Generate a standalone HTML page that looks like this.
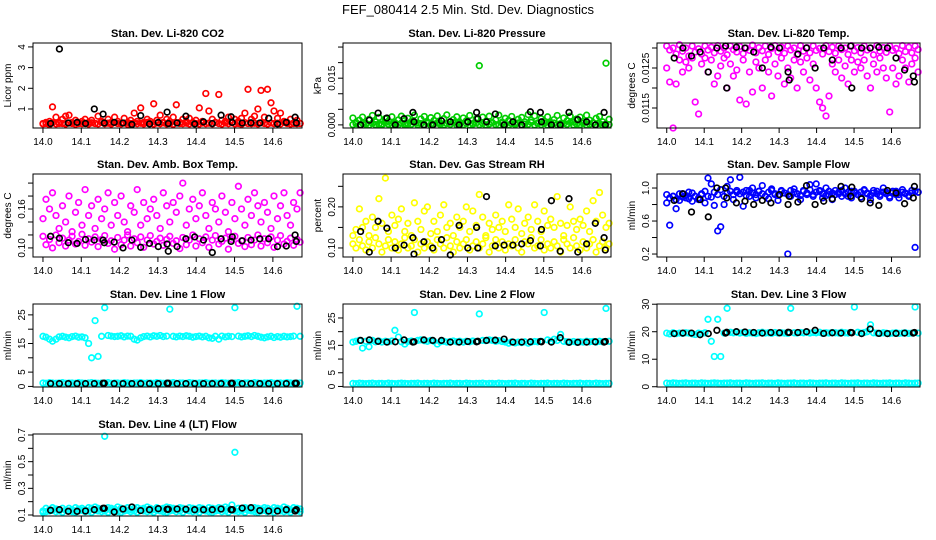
<!DOCTYPE html>
<html><head><meta charset="utf-8"><style>
html,body{margin:0;padding:0;background:#fff}
svg{display:block;font-family:"Liberation Sans",sans-serif}
</style></head><body>
<svg id="chart" width="936" height="540" xmlns="http://www.w3.org/2000/svg">
<text x="468" y="14" text-anchor="middle" font-size="13">FEF_080414  2.5 Min. Std. Dev. Diagnostics</text>
</svg>
<script>
const T=[14.000,14.008,14.017,14.025,14.034,14.042,14.051,14.059,14.068,14.076,14.085,14.093,14.102,14.110,14.119,14.127,14.136,14.144,14.153,14.161,14.170,14.178,14.187,14.195,14.204,14.212,14.221,14.229,14.238,14.246,14.255,14.263,14.272,14.280,14.289,14.297,14.306,14.314,14.323,14.331,14.340,14.348,14.357,14.365,14.374,14.382,14.391,14.399,14.408,14.416,14.425,14.433,14.442,14.450,14.459,14.467,14.476,14.484,14.493,14.501,14.510,14.518,14.527,14.535,14.544,14.552,14.561,14.569,14.578,14.586,14.595,14.603,14.612,14.620,14.629,14.637,14.646,14.654,14.663,14.671];
const TB=[14.020,14.043,14.066,14.089,14.111,14.134,14.157,14.160,14.186,14.209,14.232,14.255,14.278,14.301,14.324,14.327,14.350,14.373,14.396,14.419,14.442,14.465,14.491,14.494,14.520,14.543,14.566,14.589,14.612,14.635,14.658,14.661];
const xTicks=[14.0,14.1,14.2,14.3,14.4,14.5,14.6];

const co2A=[0.3,0.35,0.4,1.1,0.6,0.3,0.5,0.65,0.7,0.35,0.45,0.3,0.4,0.5,0.35,0.45,0.3,0.65,0.4,0.3,0.5,0.35,0.6,0.4,0.3,0.55,0.35,0.45,0.8,0.4,1.05,0.35,0.5,0.4,1.25,0.45,0.7,0.35,0.5,0.4,0.6,1.2,0.35,0.5,0.4,0.55,0.35,0.45,1.05,0.4,1.75,0.9,0.5,0.35,1.7,0.45,0.4,0.6,0.35,0.5,0.4,0.55,0.8,1.95,0.5,0.65,1.0,1.9,0.6,1.95,1.3,0.9,0.55,0.8,0.4,0.35,0.5,0.3,0.45,0.3];
const co2B=[0.28,0.3,0.25,0.33,0.28,0.35,0.3,0.27,0.32,0.3,0.26,0.34,0.29,0.31,0.27,0.33,0.3,0.28,0.35,0.29,0.31,0.27,0.34,0.3,0.28,0.32,0.26,0.3,0.33,0.29,0.31,0.28,0.35,0.3,0.27,0.32,0.29,0.33,0.28,0.3,0.26,0.34,0.3,0.29,0.31,0.28,0.33,0.3,0.27,0.32,0.29,0.31,0.28,0.35,0.3,0.27,0.32,0.29,0.33,0.28,0.3,0.26,0.34,0.3,0.29,0.31,0.28,0.33,0.3,0.27,0.32,0.29,0.31,0.28,0.35,0.3,0.27,0.32,0.29,0.3];
const co2K=[0.3,3.9,0.32,0.35,0.3,1.0,0.75,0.32,0.35,0.32,0.25,0.68,0.28,0.35,0.85,0.3,0.32,0.65,0.28,0.38,0.3,0.7,0.62,0.35,0.32,0.33,0.32,0.55,0.28,0.35,0.6,0.32];

const presA=[0.0022,0.0008,0.0015,0.0025,0.0005,0.0018,0.0030,0.0010,0.0024,0.0003,0.0020,0.0012,0.0026,0.0007,0.0016,0.0028,0.0004,0.0021,0.0011,0.0031,0.0006,0.0019,0.0027,0.0009,0.0023,0.0014,0.0029,0.0005,0.0020,0.0032,0.0010,0.0017,0.0026,0.0008,0.0022,0.0013,0.0030,0.0004,0.0019,0.0190,0.0025,0.0011,0.0028,0.0007,0.0016,0.0031,0.0009,0.0021,0.0014,0.0027,0.0005,0.0018,0.0024,0.0010,0.0033,0.0015,0.0029,0.0006,0.0020,0.0012,0.0026,0.0008,0.0017,0.0030,0.0004,0.0022,0.0013,0.0028,0.0009,0.0019,0.0025,0.0011,0.0031,0.0015,0.0007,0.0021,0.0027,0.0010,0.0198,0.0018];
const presB=[0.0001,0.0004,0.0000,0.0006,0.0002,0.0000,0.0005,0.0001,0.0003,0.0000,0.0007,0.0002,0.0000,0.0004,0.0001,0.0006,0.0000,0.0003,0.0002,0.0008,0.0000,0.0004,0.0001,0.0005,0.0000,0.0003,0.0006,0.0001,0.0000,0.0004,0.0002,0.0007,0.0000,0.0003,0.0001,0.0005,0.0000,0.0002,0.0006,0.0001,0.0004,0.0000,0.0003,0.0007,0.0001,0.0000,0.0005,0.0002,0.0000,0.0004,0.0001,0.0006,0.0000,0.0003,0.0002,0.0008,0.0000,0.0004,0.0001,0.0005,0.0000,0.0003,0.0006,0.0001,0.0000,0.0004,0.0002,0.0007,0.0000,0.0003,0.0001,0.0005,0.0000,0.0002,0.0006,0.0001,0.0004,0.0000,0.0003,0.0001];
const presK=[0.0000,0.0015,0.0038,0.0022,0.0000,0.0020,0.0040,0.0010,0.0000,0.0000,0.0013,0.0010,0.0000,0.0010,0.0040,0.0020,0.0010,0.0035,0.0000,0.0010,0.0000,0.0042,0.0040,0.0010,0.0000,0.0000,0.0040,0.0017,0.0010,0.0000,0.0040,0.0000];

const tempA=[0.01305,0.01295,0.01300,0.01285,0.01308,0.01292,0.01300,0.01280,0.01305,0.01290,0.01298,0.01285,0.01305,0.01295,0.01302,0.01288,0.01306,0.01292,0.01300,0.01283,0.01305,0.01296,0.01290,0.01304,0.01286,0.01300,0.01294,0.01307,0.01288,0.01301,0.01293,0.01305,0.01284,0.01299,0.01306,0.01290,0.01302,0.01287,0.01305,0.01295,0.01300,0.01283,0.01306,0.01292,0.01301,0.01288,0.01305,0.01294,0.01299,0.01285,0.01306,0.01291,0.01302,0.01287,0.01305,0.01296,0.01300,0.01284,0.01306,0.01293,0.01301,0.01288,0.01305,0.01295,0.01300,0.01283,0.01306,0.01292,0.01301,0.01289,0.01305,0.01294,0.01299,0.01286,0.01306,0.01291,0.01302,0.01288,0.01305,0.01296];
const tempB=[0.01250,0.01215,0.01100,0.01210,0.01270,0.01240,0.01265,0.01250,0.01275,0.01165,0.01135,0.01260,0.01275,0.01240,0.01270,0.01210,0.01230,0.01255,0.01275,0.01200,0.01260,0.01230,0.01245,0.01170,0.01270,0.01160,0.01240,0.01190,0.01265,0.01250,0.01200,0.01270,0.01240,0.01180,0.01260,0.01230,0.01275,0.01210,0.01250,0.01225,0.01270,0.01200,0.01265,0.01240,0.01275,0.01220,0.01260,0.01200,0.01165,0.01150,0.01130,0.01180,0.01260,0.01240,0.01270,0.01225,0.01255,0.01210,0.01270,0.01240,0.01265,0.01250,0.01270,0.01230,0.01200,0.01260,0.01240,0.01275,0.01250,0.01225,0.01140,0.01250,0.01210,0.01230,0.01270,0.01250,0.01215,0.01260,0.01275,0.01240];
const tempK=[0.01275,0.01300,0.01280,0.01290,0.01240,0.01300,0.01305,0.01200,0.01302,0.01300,0.01290,0.01250,0.01302,0.01300,0.01240,0.01220,0.01285,0.01300,0.01250,0.01300,0.01270,0.01300,0.01305,0.01200,0.01300,0.01300,0.01302,0.01300,0.01275,0.01245,0.01230,0.01215];

const ambA=[0.145,0.175,0.160,0.185,0.150,0.130,0.165,0.140,0.180,0.125,0.155,0.170,0.135,0.190,0.150,0.165,0.130,0.175,0.145,0.160,0.185,0.135,0.170,0.150,0.180,0.140,0.125,0.165,0.155,0.190,0.135,0.170,0.145,0.160,0.175,0.150,0.130,0.185,0.165,0.140,0.170,0.155,0.180,0.200,0.135,0.160,0.175,0.145,0.165,0.185,0.150,0.130,0.170,0.160,0.140,0.180,0.155,0.125,0.170,0.145,0.195,0.160,0.135,0.175,0.150,0.185,0.165,0.140,0.170,0.155,0.130,0.180,0.145,0.165,0.185,0.150,0.135,0.170,0.160,0.185];
const ambB=[0.118,0.105,0.113,0.100,0.120,0.108,0.115,0.103,0.112,0.118,0.106,0.110,0.121,0.104,0.114,0.109,0.117,0.102,0.113,0.119,0.107,0.111,0.098,0.116,0.105,0.112,0.120,0.103,0.114,0.108,0.117,0.101,0.112,0.119,0.106,0.110,0.115,0.104,0.113,0.118,0.107,0.111,0.099,0.116,0.105,0.112,0.120,0.103,0.114,0.108,0.117,0.101,0.112,0.119,0.106,0.110,0.115,0.098,0.113,0.118,0.107,0.111,0.102,0.116,0.105,0.112,0.120,0.103,0.114,0.108,0.117,0.101,0.112,0.119,0.106,0.110,0.115,0.104,0.113,0.109];
const ambK=[0.118,0.115,0.108,0.107,0.113,0.112,0.112,0.108,0.109,0.100,0.112,0.101,0.107,0.102,0.106,0.095,0.102,0.114,0.117,0.112,0.093,0.114,0.110,0.117,0.111,0.112,0.114,0.114,0.102,0.103,0.120,0.110];

const rhA=[0.13,0.145,0.195,0.15,0.165,0.13,0.175,0.15,0.22,0.16,0.27,0.14,0.18,0.155,0.17,0.195,0.14,0.16,0.13,0.21,0.165,0.145,0.19,0.2,0.135,0.165,0.14,0.18,0.205,0.15,0.16,0.13,0.175,0.15,0.165,0.2,0.14,0.19,0.155,0.23,0.175,0.13,0.16,0.145,0.18,0.15,0.165,0.14,0.205,0.17,0.15,0.195,0.135,0.16,0.175,0.145,0.205,0.165,0.14,0.19,0.155,0.17,0.15,0.225,0.16,0.13,0.155,0.2,0.165,0.145,0.17,0.155,0.19,0.14,0.215,0.165,0.235,0.18,0.15,0.16];
const rhB=[0.11,0.1,0.12,0.105,0.095,0.115,0.1,0.125,0.11,0.09,0.105,0.12,0.1,0.115,0.095,0.11,0.125,0.1,0.105,0.12,0.09,0.11,0.1,0.115,0.105,0.095,0.12,0.11,0.1,0.125,0.105,0.09,0.115,0.1,0.11,0.12,0.095,0.105,0.115,0.1,0.11,0.125,0.09,0.105,0.12,0.1,0.115,0.095,0.11,0.105,0.12,0.1,0.09,0.115,0.11,0.125,0.1,0.105,0.12,0.095,0.11,0.1,0.115,0.105,0.09,0.12,0.11,0.1,0.125,0.105,0.095,0.115,0.1,0.11,0.12,0.09,0.105,0.115,0.1,0.11];
const rhK=[0.14,0.09,0.165,0.148,0.1,0.107,0.125,0.085,0.115,0.1,0.12,0.083,0.155,0.1,0.15,0.1,0.225,0.105,0.107,0.107,0.11,0.118,0.105,0.145,0.215,0.092,0.22,0.09,0.11,0.16,0.125,0.095];

const flowA=[0.92,0.88,0.9,0.86,0.93,0.89,0.91,0.87,0.94,0.9,0.88,0.93,0.96,0.9,0.89,0.95,0.92,0.98,0.9,0.94,0.96,0.92,0.97,0.93,0.95,0.91,0.97,0.94,0.92,0.96,0.93,0.9,0.95,0.97,0.93,0.91,0.96,0.94,0.92,0.97,0.95,0.93,0.91,0.96,0.94,0.98,0.92,0.95,0.97,0.93,0.91,0.96,0.94,0.92,0.95,0.97,0.93,0.9,0.96,0.94,0.92,0.95,0.97,0.93,0.91,0.94,0.96,0.92,0.95,0.93,0.9,0.94,0.96,0.92,0.95,0.93,0.91,0.94,0.96,0.95];
const flowB=[0.82,0.55,0.9,0.75,0.85,0.93,0.88,0.95,0.84,0.9,0.86,0.92,0.82,1.12,1.05,0.79,0.48,0.53,0.8,1.02,1.1,0.86,0.95,1.13,0.78,0.97,0.9,1.0,0.88,0.96,1.03,0.9,0.87,0.99,0.92,0.85,0.97,0.94,0.2,0.9,0.99,0.93,0.86,0.97,0.92,1.04,0.9,1.05,0.96,0.88,1.0,0.92,0.86,0.97,0.93,0.9,1.0,0.95,0.88,0.96,0.92,0.89,0.98,0.94,0.86,0.97,0.93,0.9,1.0,0.95,0.88,0.96,0.92,0.88,0.98,0.94,0.9,0.97,0.28,0.95];
const flowK=[0.85,0.93,0.71,0.86,0.65,1.0,1.0,0.88,0.82,0.84,0.8,0.85,0.82,0.92,0.8,0.9,0.83,1.03,0.8,0.84,0.87,1.02,0.9,1.01,0.87,0.82,0.79,0.97,0.94,0.81,0.88,1.02];

const l1A=[17.5,17.2,16.5,15.8,16.5,17.3,17.5,17.2,17.0,17.4,17.6,17.2,17.3,17.0,15.0,10.0,23.0,10.5,17.5,27.5,17.8,17.6,17.4,17.5,17.7,17.3,17.6,17.5,16.5,16.2,17.0,17.4,17.6,17.3,17.7,17.5,17.8,17.4,17.6,27.0,17.5,17.3,17.6,17.4,17.7,17.5,17.2,17.4,17.6,17.3,17.5,17.0,16.8,17.5,16.5,17.6,17.3,17.5,17.4,27.5,17.6,17.3,17.5,17.7,17.4,17.8,17.5,17.2,17.0,17.3,17.5,17.1,17.4,17.2,17.5,17.3,17.4,17.6,28.0,17.5];
const l1B=[1.2,1.1,1.3,1.2,1.1,1.2,1.3,1.1,1.2,1.2,1.1,1.3,1.2,1.1,1.2,1.3,1.2,1.1,1.2,1.2,1.3,1.1,1.2,1.2,1.1,1.3,1.2,1.1,1.2,1.2,1.3,1.1,1.2,1.2,1.1,1.3,1.2,1.1,1.2,1.2,1.3,1.1,1.2,1.2,1.1,1.3,1.2,1.1,1.2,1.2,1.3,1.1,1.2,1.2,1.1,1.3,1.2,1.1,1.2,1.2,1.3,1.1,1.2,1.2,1.1,1.3,1.2,1.1,1.2,1.2,1.3,1.1,1.2,1.2,1.1,1.3,1.2,1.1,1.2,1.2];
const l1K=[1,1,1,1,1,1,1.1,1.1,1,1,1,1,1,1,1.1,1.1,1,1,1,1,1,1,1.1,1.1,1,1,1,1,1,1,1.1,1.1];

const l2A=[16.2,16.5,16.8,14.0,16.5,14.5,16.8,16.3,16.6,16.2,16.5,16.3,16.6,20.5,18.0,16.3,15.5,16.4,16.6,27.0,16.8,17.0,16.7,16.5,16.8,16.5,15.5,16.3,16.5,16.2,16.4,16.6,16.3,16.5,16.2,16.5,16.3,16.6,16.4,26.5,16.8,16.7,17.0,16.8,16.5,16.7,16.4,16.2,15.8,16.3,15.9,16.2,16.0,16.3,15.8,16.2,16.4,16.3,16.5,27.0,17.0,16.5,17.2,16.8,19.0,16.5,16.3,16.2,16.4,16.1,16.3,16.2,16.5,16.3,16.4,16.2,16.5,16.3,28.5,16.5];
const l2B=[1.1,1.0,1.2,1.1,1.0,1.1,1.2,1.0,1.1,1.1,1.0,1.2,1.1,1.0,1.1,1.2,1.1,1.0,1.1,1.1,1.2,1.0,1.1,1.1,1.0,1.2,1.1,1.0,1.1,1.1,1.2,1.0,1.1,1.1,1.0,1.2,1.1,1.0,1.1,1.1,1.2,1.0,1.1,1.1,1.0,1.2,1.1,1.0,1.1,1.1,1.2,1.0,1.1,1.1,1.0,1.2,1.1,1.0,1.1,1.1,1.2,1.0,1.1,1.1,1.0,1.2,1.1,1.0,1.1,1.1,1.2,1.0,1.1,1.1,1.0,1.2,1.1,1.0,1.1,1.1];
const l2K=[16.8,17,16.5,16.2,16.3,17,16.2,16.3,17,16.8,16.8,16.2,16.2,16.4,16.3,16.5,16.8,16.9,17.3,16.2,16.2,16.3,16.4,16.3,16.2,17.8,16.1,16.1,16.2,16.3,16.2,16.4];

const l3A=[19.5,19.2,19.6,19.3,19.5,19.4,19.6,19.5,19.2,19.0,19.5,19.3,19.6,24.5,16.5,11.0,24.5,11.0,19.5,28.5,19.8,19.6,19.8,19.5,19.7,19.4,19.6,19.5,19.3,19.6,19.8,19.5,19.6,19.4,19.7,19.5,19.6,19.5,19.4,28.5,19.6,19.5,19.7,19.6,19.8,19.5,19.7,19.6,19.8,19.4,19.6,19.5,19.7,19.6,19.5,19.8,19.6,19.5,19.7,29.0,19.8,19.5,19.7,20.0,22.5,19.6,19.5,19.4,19.6,19.5,19.3,19.5,19.6,19.4,19.5,19.6,19.4,19.5,29.0,19.5];
const l3B=[1.3,1.2,1.4,1.3,1.2,1.3,1.4,1.2,1.3,1.3,1.2,1.4,1.3,1.2,1.3,1.4,1.3,1.2,1.3,1.3,1.4,1.2,1.3,1.3,1.2,1.4,1.3,1.2,1.3,1.3,1.4,1.2,1.3,1.3,1.2,1.4,1.3,1.2,1.3,1.3,1.4,1.2,1.3,1.3,1.2,1.4,1.3,1.2,1.3,1.3,1.4,1.2,1.3,1.3,1.2,1.4,1.3,1.2,1.3,1.3,1.4,1.2,1.3,1.3,1.2,1.4,1.3,1.2,1.3,1.3,1.4,1.2,1.3,1.3,1.2,1.4,1.3,1.2,1.3,1.3];
const l3K=[19.3,19.5,19.5,18.9,19.3,20.5,19.5,19.8,20,19.9,19.7,19.5,19.7,19.6,19.8,19.7,19.7,20,20.5,19.4,19.6,19.5,19.7,19.6,19.3,21,19.4,19.3,19.4,19.5,19.5,19.7];

const l4A=[0.13,0.15,0.14,0.155,0.145,0.14,0.15,0.135,0.15,0.14,0.155,0.145,0.15,0.14,0.155,0.15,0.16,0.15,0.145,0.69,0.155,0.15,0.145,0.16,0.15,0.145,0.155,0.14,0.15,0.155,0.145,0.15,0.16,0.15,0.14,0.155,0.145,0.15,0.16,0.155,0.15,0.145,0.155,0.15,0.14,0.155,0.15,0.145,0.155,0.15,0.14,0.155,0.15,0.145,0.155,0.15,0.16,0.15,0.175,0.57,0.15,0.145,0.155,0.15,0.14,0.155,0.15,0.145,0.155,0.15,0.14,0.155,0.15,0.145,0.16,0.15,0.14,0.155,0.15,0.145];
const l4B=[0.12,0.125,0.13,0.135,0.125,0.13,0.12,0.135,0.13,0.125,0.12,0.13,0.135,0.125,0.13,0.12,0.135,0.13,0.125,0.13,0.12,0.135,0.13,0.125,0.12,0.13,0.135,0.125,0.13,0.12,0.135,0.13,0.125,0.13,0.12,0.135,0.13,0.125,0.12,0.13,0.135,0.125,0.13,0.12,0.135,0.13,0.125,0.13,0.12,0.135,0.13,0.125,0.12,0.13,0.135,0.125,0.13,0.12,0.135,0.13,0.125,0.13,0.12,0.135,0.13,0.125,0.12,0.13,0.135,0.125,0.13,0.12,0.135,0.13,0.125,0.13,0.12,0.135,0.13,0.125];
const l4K=[0.135,0.14,0.128,0.128,0.13,0.14,0.15,0.15,0.123,0.145,0.16,0.133,0.14,0.147,0.143,0.143,0.145,0.143,0.14,0.14,0.14,0.145,0.14,0.14,0.152,0.155,0.133,0.13,0.13,0.14,0.13,0.14];

const svg=document.getElementById('chart');
const NS='http://www.w3.org/2000/svg';
function mk(tag,attrs,parent){const e=document.createElementNS(NS,tag);for(const k in attrs)e.setAttribute(k,attrs[k]);(parent||svg).appendChild(e);return e;}
const cols=[[33,302],[343,611],[657,920]];
const rows=[[43,128],[174,257],[304,387],[434,516]];
const xDom=[13.974,14.676];
const panels=[
 {t:'Stan. Dev. Li-820 CO2',yl:'Licor ppm',c:0,r:0,d:[0.08,4.19],tk:[1,2,3,4],lb:['1','2','3','4'],col:'#ff0000',A:co2A,B:co2B,K:co2K,n:'co2'},
 {t:'Stan. Dev. Li-820 Pressure',yl:'kPa',c:1,r:0,d:[-0.001,0.0263],tk:[0,0.005,0.010,0.015,0.020,0.025],lb:['0.000','','','0.015','',''],col:'#00cd00',A:presA,B:presB,K:presK,n:'pressure'},
 {t:'Stan. Dev. Li-820 Temp.',yl:'degrees C',c:2,r:0,d:[0.011,0.013125],tk:[0.0115,0.0120,0.0125,0.0130],lb:['0.0115','','0.0125',''],col:'#ff00ff',A:tempA,B:tempB,K:tempK,n:'li820-temp'},
 {t:'Stan. Dev. Amb. Box Temp.',yl:'degrees C',c:0,r:1,d:[0.086,0.214],tk:[0.10,0.12,0.14,0.16,0.18,0.20],lb:['0.10','','','0.16','',''],col:'#ff00ff',A:ambA,B:ambB,K:ambK,n:'amb-box-temp'},
 {t:'Stan. Dev. Gas Stream RH',yl:'percent',c:1,r:1,d:[0.078,0.28],tk:[0.10,0.15,0.20,0.25],lb:['0.10','','0.20',''],col:'#ffff00',A:rhA,B:rhB,K:rhK,n:'gas-stream-rh'},
 {t:'Stan. Dev. Sample Flow',yl:'ml/min',c:2,r:1,d:[0.164,1.17],tk:[0.2,0.4,0.6,0.8,1.0],lb:['0.2','','0.6','','1.0'],col:'#0000ff',A:flowA,B:flowB,K:flowK,n:'sample-flow'},
 {t:'Stan. Dev. Line 1 Flow',yl:'ml/min',c:0,r:2,d:[-0.2,28.8],tk:[0,5,10,15,20,25],lb:['0','5','','15','','25'],col:'#00ffff',A:l1A,B:l1B,K:l1K,n:'line1-flow'},
 {t:'Stan. Dev. Line 2 Flow',yl:'ml/min',c:1,r:2,d:[-0.2,30.1],tk:[0,5,10,15,20,25],lb:['0','5','','15','','25'],col:'#00ffff',A:l2A,B:l2B,K:l2K,n:'line2-flow'},
 {t:'Stan. Dev. Line 3 Flow',yl:'ml/min',c:2,r:2,d:[-0.1,30.08],tk:[0,10,20,30],lb:['0','10','20','30'],col:'#00ffff',A:l3A,B:l3B,K:l3K,n:'line3-flow'},
 {t:'Stan. Dev. Line 4 (LT) Flow',yl:'ml/min',c:0,r:3,d:[0.0925,0.7075],tk:[0.1,0.2,0.3,0.4,0.5,0.6,0.7],lb:['0.1','','0.3','','0.5','','0.7'],col:'#00ffff',A:l4A,B:l4B,K:l4K,n:'line4-flow'}
];
panels.forEach(p=>{
  const [x0,x1]=cols[p.c],[y0,y1]=rows[p.r];
  const X=v=>x0+(v-xDom[0])/(xDom[1]-xDom[0])*(x1-x0);
  const Y=v=>y1-(v-p.d[0])/(p.d[1]-p.d[0])*(y1-y0);
  const g=mk('g',{});
  
  
  const cp='cp-'+p.n;
  const clip=mk('clipPath',{id:cp},g);mk('rect',{x:x0-4,y:y0-4,width:x1-x0+8,height:y1-y0+8},clip);
  const tt=mk('text',{x:(x0+x1)/2,y:y0-6,'text-anchor':'middle','font-size':'11','font-weight':'bold'},g);
  tt.textContent=p.t;
  
  
  const pts=mk('g',{'clip-path':'url(#'+cp+')'},g);
  
  
  [p.A,p.B].forEach(arr=>arr.forEach((v,i)=>{
    const c=mk('circle',{cx:X(T[i]).toFixed(1),cy:Y(v).toFixed(1),r:2.8,fill:'none',stroke:p.col,'stroke-width':1.7},pts);
    
    
  }));
  p.K.forEach((v,i)=>{
    const c=mk('circle',{cx:X(TB[i]).toFixed(1),cy:Y(v).toFixed(1),r:2.8,fill:'none',stroke:'#000','stroke-width':1.7},pts);
    
    
  });
  const box=mk('rect',{x:x0,y:y0,width:x1-x0,height:y1-y0,fill:'none',stroke:'#000','stroke-width':1},g);
  
  
  xTicks.forEach(v=>{
    const xx=X(v);
    mk('line',{x1:xx,x2:xx,y1:y1,y2:y1+5,stroke:'#000'},g);
    const tl=mk('text',{x:xx,y:y1+17,'text-anchor':'middle','font-size':'10'},g);
    tl.textContent=v.toFixed(1);
    
    
  });
  p.tk.forEach((v,i)=>{
    const yy=Y(v);
    mk('line',{x1:x0-5,x2:x0,y1:yy,y2:yy,stroke:'#000'},g);
    if(p.lb[i]){
      const tl=mk('text',{x:x0-8,y:yy,'text-anchor':'middle','font-size':'10',transform:'rotate(-90 '+(x0-8)+' '+yy+')'},g);
      tl.textContent=p.lb[i];
      
      
    }
  });
  const yc=(y0+y1)/2,yx=x0-22;
  const yl=mk('text',{x:yx,y:yc,'text-anchor':'middle','font-size':'10',transform:'rotate(-90 '+yx+' '+yc+')'},g);
  yl.textContent=p.yl;
  
  
});
</script>
</body></html>
